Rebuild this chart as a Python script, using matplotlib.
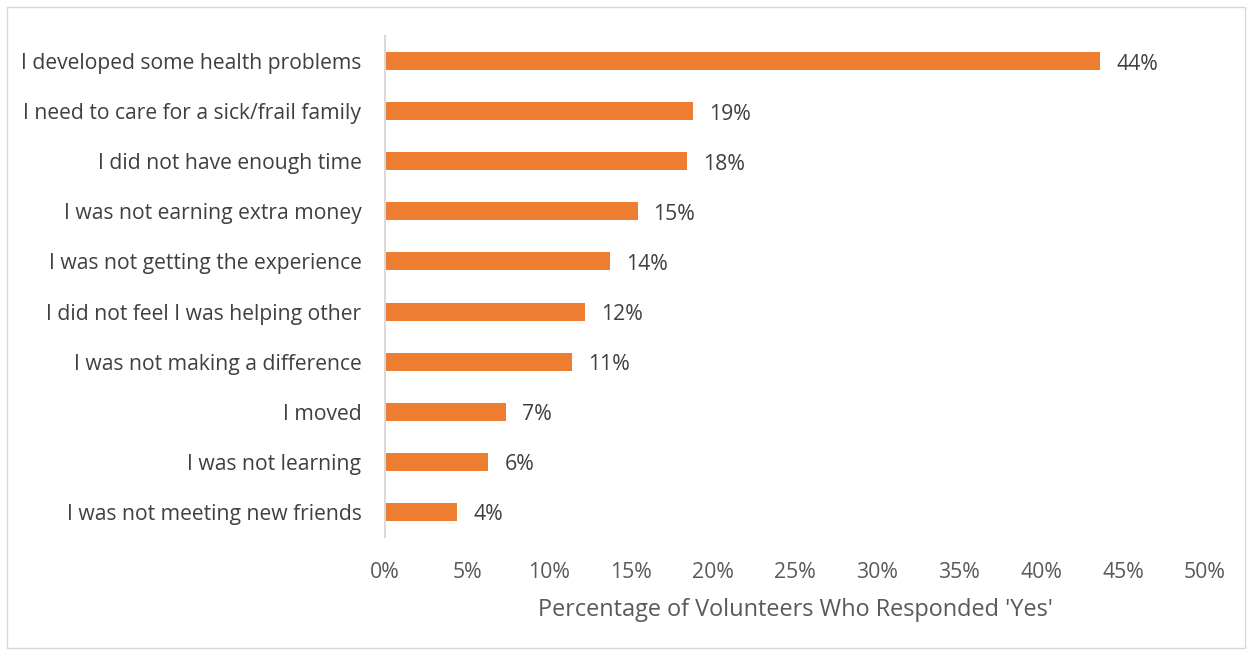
import matplotlib
matplotlib.use("Agg")
import matplotlib.pyplot as plt
from matplotlib.patches import Rectangle
from matplotlib.ticker import FuncFormatter, MultipleLocator

reasons = [
    "I developed some health problems",
    "I need to care for a sick/frail family",
    "I did not have enough time",
    "I was not earning extra money",
    "I was not getting the experience",
    "I did not feel I was helping other",
    "I was not making a difference",
    "I moved",
    "I was not learning",
    "I was not meeting new friends",
]
percent_yes = [43.6, 18.8, 18.4, 15.4, 13.7, 12.2, 11.4, 7.4, 6.3, 4.4]

bar_color = "#ED7D31"
text_color = "#595959"
label_color = "#404040"

plt.rcParams["font.family"] = ["Open Sans", "DejaVu Sans"]

fig = plt.figure(figsize=(12.5, 6.52), dpi=100)
ax = fig.add_axes([385 / 1250, 1 - 537 / 652, 820 / 1250, 501 / 652])

positions = list(range(len(reasons)))
ax.barh(positions, percent_yes, height=0.36, color=bar_color, zorder=2)

for y, v in zip(positions, percent_yes):
    ax.annotate(f"{v:.0f}%", xy=(v, y), xytext=(16, -3), textcoords="offset pixels",
                va="center", ha="left", fontsize=15.3, color=label_color)

ax.set_xlim(0, 50)
ax.set_ylim(len(reasons) - 0.5, -0.5)
ax.set_yticks(positions)
ax.set_yticklabels(reasons, fontsize=15.2, color=label_color)
ax.xaxis.set_major_locator(MultipleLocator(5))
ax.xaxis.set_major_formatter(FuncFormatter(lambda x, _: f"{x:.0f}%"))
ax.tick_params(axis="x", length=0, labelsize=15.3, labelcolor=text_color, pad=18)
ax.tick_params(axis="y", length=0, pad=17)

for side in ("top", "right", "bottom"):
    ax.spines[side].set_visible(False)
ax.spines["left"].set_color("#D9D9D9")
ax.spines["left"].set_linewidth(1.5)

ax.set_xlabel("Percentage of Volunteers Who Responded 'Yes'", fontsize=16.9,
              color=text_color, labelpad=10.5)

# light frame around the whole chart area
fig.patches.append(Rectangle((7 / 1250, 4 / 652), 1238 / 1250, 641 / 652,
                             transform=fig.transFigure, fill=False,
                             edgecolor="#D9D9D9", linewidth=1))

fig.savefig("out.png", dpi=100)
